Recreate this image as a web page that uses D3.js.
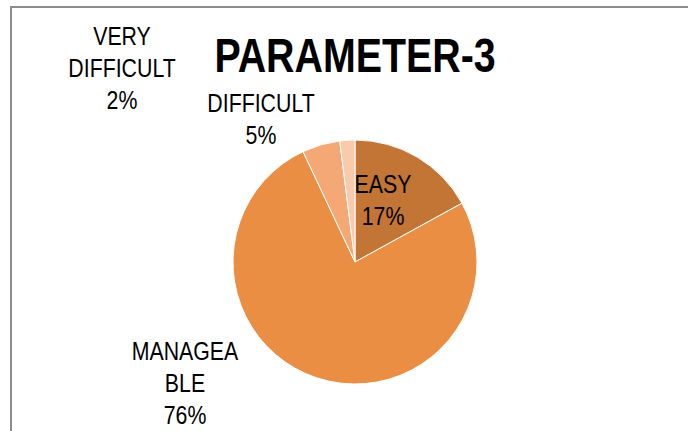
<!DOCTYPE html>
<html>
<head>
<meta charset="utf-8">
<script src="https://cdn.jsdelivr.net/npm/d3@7"></script>
<style>
  body { margin: 0; background: #fff; }
  text { font-family: "Liberation Sans", Arial, sans-serif; fill: #000; }
</style>
</head>
<body>
<div id="chart"></div>
<script>
// slice data, clockwise from 12 o'clock
const categories = ["EASY", "MANAGEABLE", "DIFFICULT", "VERY DIFFICULT"]
const values = [17, 76, 5, 2]
const labelLines = [["EASY", "17%"], ["MANAGEA", "BLE", "76%"], ["DIFFICULT", "5%"], ["VERY", "DIFFICULT", "2%"]]
const colors = ["#c37536", "#e98e43", "#f4a876", "#f8cbad"]

const width = 688, height = 431
const cx = 355, cy = 262, radius = 122
const narrow = 0.82   // no narrow face installed, squeeze Liberation Sans instead

// label anchors (first baseline) relative to pie centre
const labelOffset = [[28, -69], [-170, 98], [-94, -150], [-233, -217]]
const lineHeight = 31.8

const svg = d3.select("#chart").append("svg")
  .attr("width", width)
  .attr("height", height)

// chart frame (only top and left edges visible)
svg.append("path")
  .attr("d", "M11,435V7H692")
  .attr("fill", "none")
  .attr("stroke", "#8c8c8c")
  .attr("stroke-width", 2)

svg.append("text")
  .attr("transform", `translate(${cx},72) scale(${narrow},1)`)
  .attr("text-anchor", "middle")
  .style("font-size", "48px")
  .style("font-weight", "bold")
  .text("PARAMETER-3")

let pie = d3.pie().sort(null).value(d => d)
let arc = d3.arc().innerRadius(0).outerRadius(radius)
let arcs = pie(values)

let g = svg.append("g").attr("transform", `translate(${cx},${cy})`)

g.selectAll("path.slice")
  .data(arcs)
  .enter().append("path")
  .attr("class", "slice")
  .attr("d", arc)
  .attr("fill", (d, i) => colors[i])
  .attr("stroke", "#fff")
  .attr("stroke-width", 1)

let labels = g.selectAll("text.lbl")
  .data(arcs)
  .enter().append("text")
  .attr("class", "lbl")
  .attr("text-anchor", "middle")
  .style("font-size", "26px")
  .attr("transform", (d, i) => `translate(${labelOffset[i][0]},${labelOffset[i][1]}) scale(${narrow},1)`)

labels.selectAll("tspan")
  .data((d, i) => labelLines[i])
  .enter().append("tspan")
  .attr("x", 0)
  .attr("y", (d, j) => j * lineHeight)
  .text(d => d)
</script>
</body>
</html>
